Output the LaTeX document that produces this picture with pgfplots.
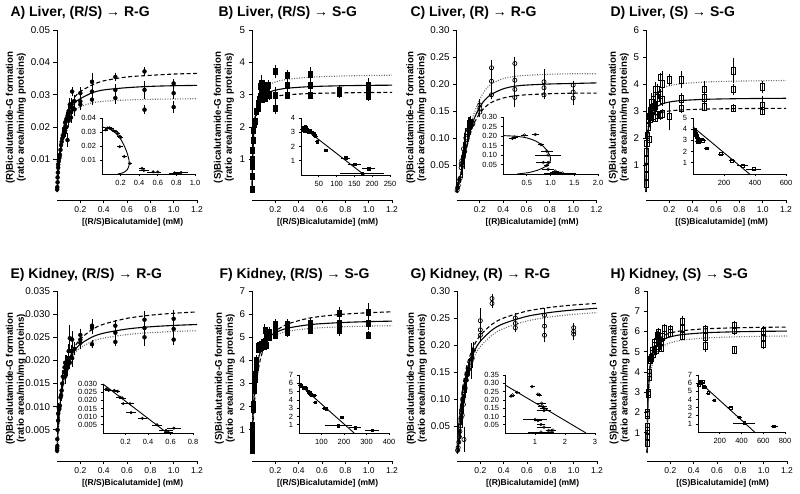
\documentclass[border=0pt]{standalone}
\usepackage{fontspec}
\setmainfont{Liberation Sans}
\usepackage{pgfplots}
\pgfplotsset{compat=1.18}
\pgfplotsset{
 mainax/.style={
   scale only axis, width=140pt, height=162pt,
   axis lines=left, axis line style={-, line width=0.9pt},
   axis x line shift=8pt,
   tick align=outside, major tick length=3.5pt,
   tick style={line width=0.8pt, black},
   xmin=0, xmax=1.2, ymin=0,
   xtick={0.2,0.4,0.6,0.8,1.0,1.2},
   scaled ticks=false,
   /pgf/number format/assume math mode=true,
   xticklabel style={font=\fontsize{8.5}{10}\selectfont, /pgf/number format/.cd, fixed, fixed zerofill, precision=1},
   yticklabel style={font=\fontsize{9.8}{10}\selectfont},
   xlabel style={font=\bfseries\fontsize{8.5}{10}\selectfont, at={(axis description cs:0.54,-0.185)}, anchor=center},
   ylabel style={font=\bfseries\fontsize{9.7}{11}\selectfont, align=center, anchor=center},
   clip=false,
 },
 ylpos/.style={ylabel style={at={(axis description cs:#1,0.46)}}},
 insetax/.style={
   scale only axis, axis lines=left, axis line style={-, line width=0.8pt},
   tick align=outside, major tick length=2.5pt, tick style={line width=0.7pt, black},
   xmin=0, ymin=0, scaled ticks=false,
   /pgf/number format/assume math mode=true,
   tick label style={font=\fontsize{7.5}{8}\selectfont},
   clip=false,
 },
 ydec/.style={yticklabel style={/pgf/number format/.cd, fixed, fixed zerofill, precision=#1}},
 xdec/.style={xticklabel style={/pgf/number format/.cd, fixed, fixed zerofill, precision=#1}},
 cdash/.style={black, line width=1.1pt, dash pattern=on 4pt off 2.5pt, mark=none, smooth},
 csol/.style={black, line width=1.1pt, mark=none, smooth},
 cdot/.style={black!60, line width=1.1pt, dash pattern=on 1pt off 1.5pt, mark=none, smooth},
 cins/.style={black, line width=0.9pt, mark=none},
 yerr/.style={error bars/.cd, y dir=both, y explicit, error bar style={line width=0.8pt, black}, error mark options={line width=0.8pt, mark size=1.8pt, black}},
 xerr/.style={error bars/.cd, x dir=both, x explicit, error bar style={line width=0.6pt, black}, error mark options={line width=0.6pt, mark size=1.3pt, black}},
 dfill/.style={only marks, mark=*, mark size=2pt, mark options={black, fill=black}},
 sfill/.style={only marks, mark=square*, mark size=2pt, mark options={black, fill=black, yscale=1.5}},
 ocirc/.style={only marks, mark=o, mark size=2.1pt, mark options={black, fill=white, line width=0.7pt}},
 osq/.style={only marks, mark=square, mark size=2.1pt, mark options={black, fill=white, line width=0.7pt, yscale=1.6}},
 idfill/.style={only marks, mark=*, mark size=1.3pt, mark options={black, fill=black}},
 isfill/.style={only marks, mark=square*, mark size=1.3pt, mark options={black, fill=black}},
 iocirc/.style={only marks, mark=o, mark size=1.4pt, mark options={black, fill=white, line width=0.5pt}},
 iosq/.style={only marks, mark=square, mark size=1.4pt, mark options={black, fill=white, line width=0.5pt}},
}
\begin{document}
\begin{tikzpicture}
\path[use as bounding box] (0,0) rectangle (800pt,494pt);
\tikzset{ttl/.style={anchor=base west, font=\bfseries\fontsize{14}{16}\selectfont}}
\node[ttl] at (7pt,477pt) {A) Liver, (R/S) → R-G};
\node[ttl] at (215pt,477pt) {B) Liver, (R/S) → S-G};
\node[ttl] at (407pt,477pt) {C) Liver, (R) → R-G};
\node[ttl] at (607pt,477pt) {D) Liver, (S) → S-G};
\node[ttl] at (7pt,215pt) {E) Kidney, (R/S) → R-G};
\node[ttl] at (216pt,215pt) {F) Kidney, (R/S) → S-G};
\node[ttl] at (407pt,215pt) {G) Kidney, (R) → R-G};
\node[ttl] at (607pt,215pt) {H) Kidney, (S) → S-G};

% ================= A =================
\begin{axis}[mainax, at={(57pt,302pt)}, anchor=south west, ymax=0.05,
  ytick={0.01,0.02,0.03,0.04,0.05}, ydec=2, ylpos=-0.293,
  ylabel={(R)Bicalutamide-G formation\\(ratio area/min/mg proteins)},
  xlabel={[(R/S)Bicalutamide] (mM)}]
\addplot[cdash] coordinates {(0,0)(0.01,0.005)(0.02,0.0095)(0.04,0.016)(0.06,0.0205)(0.08,0.0235)(0.1,0.0258)(0.15,0.0292)(0.2,0.031)(0.3,0.033)(0.4,0.0343)(0.6,0.0355)(0.8,0.036)(1.0,0.0364)(1.2,0.0366)};
\addplot[csol] coordinates {(0,0)(0.01,0.005)(0.02,0.0095)(0.04,0.016)(0.06,0.020)(0.08,0.0228)(0.1,0.0248)(0.15,0.0275)(0.2,0.0288)(0.3,0.0306)(0.4,0.0315)(0.6,0.0322)(0.8,0.0326)(1.0,0.0328)(1.2,0.0329)};
\addplot[cdot] coordinates {(0,0)(0.01,0.005)(0.02,0.0093)(0.04,0.0155)(0.06,0.0192)(0.08,0.0215)(0.1,0.0232)(0.15,0.0252)(0.2,0.0263)(0.3,0.0275)(0.4,0.028)(0.6,0.0284)(0.8,0.0286)(1.0,0.0287)(1.2,0.0288)};
\addplot[dfill, yerr] table[x=x, y=y, y error=e] {
x y e
0.001 0.0008 0.0003
0.0025 0.0015 0.0003
0.005 0.003 0.0004
0.005 0.0045 0.0004
0.0075 0.006 0.0005
0.01 0.0075 0.0006
0.01 0.0085 0.0006
0.015 0.0095 0.0006
0.02 0.0105 0.0007
0.02 0.011 0.0007
0.025 0.0115 0.0007
0.03 0.013 0.0008
0.035 0.0145 0.0008
0.04 0.0155 0.0009
0.045 0.0165 0.0009
0.05 0.0175 0.001
0.06 0.0185 0.0012
0.06 0.0195 0.0012
0.07 0.019 0.0015
0.07 0.0215 0.0012
0.08 0.02 0.0015
0.08 0.0225 0.0015
0.09 0.016 0.0015
0.09 0.0235 0.0013
0.1 0.022 0.0015
0.1 0.025 0.0015
0.11 0.027 0.0015
0.11 0.0245 0.0013
0.12 0.027 0.0015
0.12 0.023 0.0013
0.13 0.031 0.0008
0.13 0.026 0.0015
0.15 0.0255 0.0015
0.15 0.028 0.0013
0.2 0.0305 0.0012
0.2 0.028 0.0012
0.2 0.027 0.0012
0.3 0.034 0.0022
0.3 0.031 0.0015
0.3 0.0285 0.0012
0.5 0.0355 0.0008
0.5 0.0315 0.0012
0.5 0.029 0.0012
0.75 0.0372 0.0008
0.75 0.0315 0.0022
0.75 0.0254 0.0008
1.0 0.0335 0.0008
1.0 0.0305 0.0012
1.0 0.0262 0.0012
};
\end{axis}
\begin{axis}[insetax, at={(102pt,320pt)}, anchor=south west, width=93pt, height=56pt,
  xmax=1.0, ymax=0.04, xtick={0.2,0.4,0.6,0.8,1.0}, xdec=1, ytick={0.01,0.02,0.03,0.04}, ydec=2]
\addplot[cins, smooth] coordinates {(0,0.0335)(0.05,0.0328)(0.1,0.0315)(0.15,0.029)(0.2,0.025)(0.24,0.02)(0.27,0.015)(0.29,0.01)(0.29,0.006)(0.27,0.003)(0.23,0.001)(0.17,0)};
\addplot[idfill, xerr] table[x=x, y=y, x error=e] {
x y e
0.04 0.0315 0.01
0.06 0.0328 0.01
0.08 0.033 0.01
0.1 0.0325 0.01
0.12 0.031 0.01
0.15 0.0305 0.01
0.17 0.029 0.01
0.19 0.027 0.01
0.2 0.026 0.01
0.19 0.0195 0.02
0.24 0.0125 0.01
0.3 0.0075 0.01
0.43 0.004 0.02
0.45 0.0025 0.04
0.55 0.0015 0.05
0.6 0.0015 0.02
0.85 0.001 0.06
0.78 0.0008 0.05
};
\end{axis}

% ================= B =================
\begin{axis}[mainax, at={(252pt,302pt)}, anchor=south west, ymax=5,
  ytick={1,2,3,4,5}, ylpos=-0.2,
  ylabel={(S)Bicalutamide-G formation\\(ratio area/min/mg proteins)},
  xlabel={[(R/S)Bicalutamide] (mM)}]
\addplot[cdot] coordinates {(0,0)(0.0025,0.521)(0.005,0.913)(0.01,1.46)(0.02,2.086)(0.03,2.433)(0.05,2.808)(0.075,3.042)(0.1,3.174)(0.15,3.318)(0.2,3.395)(0.3,3.476)(0.5,3.544)(0.75,3.578)(1.0,3.596)(1.2,3.605)};
\addplot[csol] coordinates {(0,0)(0.0025,0.574)(0.005,0.979)(0.01,1.514)(0.02,2.081)(0.03,2.379)(0.05,2.685)(0.075,2.871)(0.1,2.973)(0.15,3.083)(0.2,3.142)(0.3,3.202)(0.5,3.252)(0.75,3.278)(1.0,3.291)(1.2,3.297)};
\addplot[cdash] coordinates {(0,0)(0.0025,0.62)(0.005,1.033)(0.01,1.55)(0.02,2.067)(0.03,2.325)(0.05,2.583)(0.075,2.735)(0.1,2.818)(0.15,2.906)(0.2,2.952)(0.3,3.0)(0.5,3.039)(0.75,3.059)(1.0,3.069)(1.2,3.074)};
\addplot[sfill, yerr] table[x=x, y=y, y error=e] {
x y e
0.0025 0.1 0.05
0.0025 0.5 0.05
0.0025 0.8 0.05
0.005 1.0 0.05
0.005 1.3 0.1
0.01 1.6 0.1
0.01 1.9 0.1
0.02 2.1 0.1
0.03 2.2 0.1
0.04 2.5 0.1
0.05 2.6 0.1
0.05 2.75 0.1
0.06 2.85 0.15
0.07 3.25 0.1
0.07 2.95 0.15
0.08 3.1 0.2
0.08 3.35 0.2
0.09 3.2 0.15
0.09 2.9 0.1
0.1 3.1 0.15
0.1 2.95 0.15
0.11 3.3 0.1
0.11 2.9 0.1
0.12 3.2 0.15
0.13 3.25 0.1
0.13 3.0 0.1
0.14 3.3 0.1
0.15 3.0 0.1
0.2 3.72 0.15
0.2 3.0 0.2
0.2 2.6 0.15
0.3 3.6 0.1
0.3 3.3 0.1
0.3 3.0 0.08
0.5 3.65 0.15
0.5 3.3 0.1
0.5 3.0 0.08
0.75 3.15 0.08
0.75 3.05 0.08
1.0 3.3 0.15
1.0 3.1 0.1
1.0 2.95 0.08
};
\end{axis}
\begin{axis}[insetax, at={(301pt,319pt)}, anchor=south west, width=89pt, height=57pt,
  xmax=250, ymax=4, xtick={50,100,150,200,250}, ytick={1,2,3,4}]
\addplot[cins] coordinates {(0,3.45)(178,0)};
\addplot[isfill, xerr] table[x=x, y=y, x error=e] {
x y e
5 3.2 3
8 3.35 3
10 3.1 3
12 3.4 3
15 3.25 3
18 3.15 3
20 3.05 3
25 3.1 3
30 3.0 3
35 2.9 3
40 2.75 3
45 2.35 3
70 1.75 3
125 1.2 10
150 0.75 15
190 0.45 15
172 0.1 58
};
\end{axis}

% ================= C =================
\begin{axis}[mainax, at={(456.5pt,302pt)}, anchor=south west, ymax=0.30,
  ytick={0.05,0.10,0.15,0.20,0.25,0.30}, ydec=2, ylpos=-0.286,
  ylabel={(R)Bicalutamide-G formation\\(ratio area/min/mg proteins)},
  xlabel={[(R)Bicalutamide] (mM)}]
\addplot[cdot] coordinates {(0,0)(0.025,0.022)(0.05,0.048)(0.075,0.075)(0.1,0.10)(0.125,0.125)(0.15,0.145)(0.2,0.172)(0.25,0.190)(0.3,0.200)(0.4,0.210)(0.5,0.214)(0.6,0.216)(0.8,0.218)(1.0,0.219)(1.2,0.219)};
\addplot[csol] coordinates {(0,0)(0.025,0.022)(0.05,0.047)(0.075,0.073)(0.1,0.097)(0.125,0.118)(0.15,0.135)(0.2,0.158)(0.25,0.172)(0.3,0.181)(0.4,0.191)(0.5,0.196)(0.6,0.198)(0.8,0.200)(1.0,0.201)(1.2,0.202)};
\addplot[cdash] coordinates {(0,0)(0.025,0.022)(0.05,0.046)(0.075,0.071)(0.1,0.093)(0.125,0.112)(0.15,0.127)(0.2,0.146)(0.25,0.158)(0.3,0.166)(0.4,0.174)(0.5,0.178)(0.6,0.180)(0.8,0.182)(1.0,0.183)(1.2,0.183)};
\addplot[ocirc, yerr] table[x=x, y=y, y error=e] {
x y e
0.005 0.003 0.002
0.01 0.008 0.003
0.015 0.012 0.003
0.02 0.02 0.004
0.03 0.025 0.005
0.04 0.045 0.01
0.04 0.052 0.01
0.045 0.058 0.008
0.05 0.05 0.02
0.06 0.065 0.01
0.06 0.08 0.01
0.07 0.075 0.03
0.08 0.09 0.02
0.08 0.1 0.015
0.09 0.11 0.02
0.1 0.115 0.02
0.11 0.12 0.015
0.12 0.128 0.01
0.13 0.125 0.006
0.14 0.126 0.005
0.2 0.161 0.008
0.2 0.155 0.008
0.2 0.148 0.006
0.3 0.23 0.012
0.3 0.205 0.015
0.3 0.18 0.005
0.5 0.238 0.008
0.5 0.207 0.015
0.5 0.19 0.01
0.5 0.175 0.015
0.75 0.204 0.02
0.75 0.193 0.01
0.75 0.18 0.005
1.0 0.198 0.005
1.0 0.185 0.008
1.0 0.174 0.01
};
\end{axis}
\begin{axis}[insetax, at={(503pt,320pt)}, anchor=south west, width=95pt, height=57pt,
  xmax=2.0, ymax=0.30, xtick={0.5,1.0,1.5,2.0}, xdec=1, ytick={0.05,0.10,0.15,0.20,0.25,0.30}, ydec=2]
\addplot[cins, smooth] coordinates {(0,0.202)(0.3,0.198)(0.5,0.19)(0.7,0.172)(0.85,0.145)(0.95,0.115)(1.0,0.085)(0.98,0.06)(0.9,0.04)(0.75,0.022)(0.55,0.008)(0.3,0)};
\addplot[iocirc, xerr] table[x=x, y=y, x error=e] {
x y e
0.2 0.188 0.04
0.25 0.195 0.04
0.45 0.205 0.05
0.68 0.208 0.05
0.8 0.155 0.03
0.92 0.12 0.1
0.95 0.1 0.25
0.85 0.06 0.12
0.95 0.06 0.03
0.92 0.045 0.03
0.95 0.025 0.1
1.1 0.015 0.05
1.12 0.008 0.1
1.2 0.005 0.3
1.25 0.005 0.05
};
\end{axis}

% ================= D =================
\begin{axis}[mainax, at={(646pt,302pt)}, anchor=south west, ymax=6,
  ytick={1,2,3,4,5,6}, ylpos=-0.193,
  ylabel={(S)Bicalutamide-G formation\\(ratio area/min/mg proteins)},
  xlabel={[(S)Bicalutamide] (mM)}]
\addplot[cdot] coordinates {(0,0)(0.0025,0.719)(0.005,1.226)(0.01,1.895)(0.02,2.606)(0.03,2.979)(0.05,3.363)(0.075,3.595)(0.1,3.723)(0.15,3.861)(0.2,3.934)(0.3,4.010)(0.5,4.072)(0.75,4.104)(1.0,4.121)(1.2,4.129)};
\addplot[csol] coordinates {(0,0)(0.0025,0.7)(0.005,1.167)(0.01,1.75)(0.02,2.333)(0.03,2.625)(0.05,2.917)(0.075,3.088)(0.1,3.182)(0.15,3.281)(0.2,3.333)(0.3,3.387)(0.5,3.431)(0.75,3.454)(1.0,3.465)(1.2,3.471)};
\addplot[cdash] coordinates {(0,0)(0.0025,0.743)(0.005,1.2)(0.01,1.733)(0.02,2.229)(0.03,2.463)(0.05,2.690)(0.075,2.819)(0.1,2.889)(0.15,2.962)(0.2,3.0)(0.3,3.039)(0.5,3.071)(0.75,3.087)(1.0,3.095)(1.2,3.099)};
\addplot[osq, yerr] table[x=x, y=y, y error=e] {
x y e
0.0025 0.3 0.05
0.0025 0.6 0.05
0.0025 0.9 0.05
0.005 1.2 0.1
0.005 1.5 0.1
0.0075 1.8 0.1
0.01 2.1 0.1
0.02 2.4 0.1
0.02 2.7 0.1
0.03 1.95 0.2
0.03 2.8 0.15
0.04 3.0 0.2
0.04 2.7 0.1
0.05 3.3 0.3
0.05 3.05 0.15
0.06 2.8 0.1
0.06 3.4 0.2
0.07 3.15 0.15
0.08 3.8 0.2
0.08 3.2 0.15
0.08 2.75 0.1
0.1 3.8 0.15
0.1 3.5 0.1
0.1 2.85 0.1
0.12 4.25 0.1
0.12 3.6 0.15
0.12 2.85 0.1
0.14 4.0 0.4
0.14 3.4 0.15
0.14 2.9 0.1
0.2 4.15 0.15
0.2 2.8 0.45
0.3 4.15 0.25
0.3 3.45 0.15
0.3 3.1 0.1
0.5 3.8 0.25
0.5 3.5 0.15
0.5 3.15 0.1
0.75 4.5 0.4
0.75 3.8 0.15
0.75 3.1 0.08
1.0 3.9 0.15
1.0 3.2 0.3
1.0 3.0 0.1
};
\end{axis}
\begin{axis}[insetax, at={(693pt,320pt)}, anchor=south west, width=93pt, height=56pt,
  xmax=600, ymax=5, xtick={200,400,600}, ytick={1,2,3,4,5}]
\addplot[cins] coordinates {(0,4.2)(365,0)};
\addplot[iosq, xerr] table[x=x, y=y, x error=e] {
x y e
10 3.95 5
15 3.75 8
20 3.55 8
25 3.4 8
30 3.2 8
35 3.0 8
38 2.85 10
45 3.05 8
55 3.1 8
65 3.0 10
30 2.9 10
90 2.3 8
180 1.8 10
250 1.2 10
320 0.75 25
390 0.45 40
};
\end{axis}

% ================= E =================
\begin{axis}[mainax, at={(57pt,41pt)}, anchor=south west, ymax=0.035,
  ytick={0.005,0.010,0.015,0.020,0.025,0.030,0.035}, ydec=3, ylpos=-0.293,
  ylabel={(R)Bicalutamide-G formation\\(ratio area/min/mg proteins)},
  xlabel={[(R/S)Bicalutamide] (mM)}]
\addplot[cdash] coordinates {(0,0)(0.01,0.00457)(0.02,0.008)(0.04,0.0128)(0.06,0.016)(0.08,0.01829)(0.1,0.02)(0.15,0.02286)(0.2,0.02462)(0.3,0.02667)(0.4,0.02783)(0.6,0.02909)(0.8,0.02977)(1.0,0.03019)(1.2,0.03048)};
\addplot[csol] coordinates {(0,0)(0.01,0.00524)(0.02,0.00886)(0.04,0.01355)(0.06,0.01646)(0.08,0.01843)(0.1,0.01986)(0.15,0.02215)(0.2,0.02351)(0.3,0.02504)(0.4,0.02589)(0.6,0.02679)(0.8,0.02727)(1.0,0.02756)(1.2,0.02776)};
\addplot[cdot] coordinates {(0,0)(0.01,0.00546)(0.02,0.0091)(0.04,0.01365)(0.06,0.01638)(0.08,0.0182)(0.1,0.0195)(0.15,0.02155)(0.2,0.02275)(0.3,0.02409)(0.4,0.02482)(0.6,0.02559)(0.8,0.026)(1.0,0.02625)(1.2,0.02642)};
\addplot[dfill, yerr] table[x=x, y=y, y error=e] {
x y e
0.001 0.0005 0.0002
0.001 0.001 0.0002
0.0025 0.0015 0.0003
0.0025 0.003 0.0003
0.005 0.005 0.0004
0.01 0.007 0.0005
0.01 0.0085 0.0005
0.015 0.0098 0.0006
0.02 0.0095 0.0006
0.025 0.0102 0.0006
0.03 0.012 0.0008
0.035 0.0125 0.0008
0.04 0.0135 0.0008
0.045 0.015 0.001
0.05 0.0165 0.001
0.06 0.0175 0.001
0.065 0.0185 0.001
0.07 0.0195 0.0012
0.07 0.0165 0.0012
0.08 0.0195 0.0012
0.08 0.018 0.0012
0.09 0.0185 0.0015
0.09 0.0195 0.001
0.1 0.02 0.0015
0.1 0.022 0.0012
0.11 0.0248 0.0025
0.11 0.0195 0.001
0.12 0.022 0.001
0.13 0.0245 0.0015
0.13 0.0205 0.0015
0.15 0.0225 0.001
0.2 0.0255 0.001
0.2 0.0245 0.001
0.2 0.0238 0.001
0.3 0.0275 0.001
0.3 0.027 0.0008
0.3 0.0235 0.0005
0.5 0.0275 0.0008
0.5 0.026 0.001
0.5 0.024 0.0005
0.75 0.0288 0.0015
0.75 0.027 0.0015
0.75 0.025 0.0015
1.0 0.029 0.0015
1.0 0.0268 0.0012
1.0 0.0245 0.0008
};
\end{axis}
\begin{axis}[insetax, at={(103pt,61pt)}, anchor=south west, width=90pt, height=49pt,
  xmax=0.8, ymax=0.030, xtick={0.2,0.4,0.6,0.8}, xdec=1, ytick={0.005,0.010,0.015,0.020,0.025,0.030}, ydec=3]
\addplot[cins] coordinates {(0,0.03)(0.57,0)};
\addplot[idfill, xerr] table[x=x, y=y, x error=e] {
x y e
0.03 0.027 0.02
0.05 0.026 0.02
0.1 0.026 0.02
0.13 0.0255 0.01
0.15 0.022 0.02
0.17 0.0215 0.02
0.18 0.018 0.01
0.24 0.018 0.02
0.25 0.0125 0.03
0.35 0.009 0.03
0.48 0.005 0.03
0.56 0.0015 0.05
0.58 0.0005 0.03
0.63 0.003 0.05
};
\end{axis}

% ================= F =================
\begin{axis}[mainax, at={(252pt,41pt)}, anchor=south west, ymax=7,
  ytick={1,2,3,4,5,6,7}, ylpos=-0.193,
  ylabel={(S)Bicalutamide-G formation\\(ratio area/min/mg proteins)},
  xlabel={[(R/S)Bicalutamide] (mM)}]
\addplot[cdash] coordinates {(0,0)(0.0025,0.371)(0.005,0.70)(0.01,1.261)(0.02,2.101)(0.03,2.702)(0.05,3.502)(0.075,4.111)(0.1,4.503)(0.15,4.977)(0.2,5.253)(0.3,5.562)(0.5,5.837)(0.75,5.985)(1.0,6.062)(1.2,6.101)};
\addplot[csol] coordinates {(0,0)(0.0025,0.559)(0.005,1.019)(0.01,1.734)(0.02,2.671)(0.03,3.258)(0.05,3.952)(0.075,4.424)(0.1,4.704)(0.15,5.023)(0.2,5.199)(0.3,5.388)(0.5,5.549)(0.75,5.633)(1.0,5.677)(1.2,5.698)};
\addplot[cdot] coordinates {(0,0)(0.0025,0.647)(0.005,1.159)(0.01,1.920)(0.02,2.858)(0.03,3.414)(0.05,4.043)(0.075,4.454)(0.1,4.692)(0.15,4.957)(0.2,5.101)(0.3,5.253)(0.5,5.382)(0.75,5.449)(1.0,5.483)(1.2,5.500)};
\addplot[sfill, yerr] table[x=x, y=y, y error=e] {
x y e
0.001 0.1 0.05
0.001 0.3 0.05
0.0025 0.6 0.05
0.0025 0.9 0.1
0.005 1.2 0.1
0.01 1.9 0.1
0.01 2.1 0.1
0.02 2.7 0.15
0.02 3.0 0.15
0.025 3.2 0.15
0.03 3.4 0.15
0.035 3.7 0.15
0.04 4.0 0.15
0.05 4.5 0.1
0.055 4.6 0.1
0.06 4.65 0.1
0.07 4.55 0.1
0.08 4.7 0.1
0.1 4.6 0.1
0.1 4.8 0.1
0.11 5.3 0.2
0.12 5.0 0.15
0.12 4.65 0.1
0.13 5.1 0.1
0.15 5.0 0.1
0.15 5.2 0.15
0.2 5.1 0.1
0.2 5.35 0.15
0.2 5.55 0.15
0.3 5.2 0.1
0.3 5.4 0.1
0.3 5.55 0.15
0.5 5.3 0.1
0.5 5.45 0.1
0.5 5.6 0.15
0.75 5.3 0.15
0.75 5.6 0.2
0.75 6.05 0.2
1.0 5.1 0.1
1.0 5.6 0.2
1.0 6.1 0.3
};
\end{axis}
\begin{axis}[insetax, at={(299pt,61pt)}, anchor=south west, width=90pt, height=58pt,
  xmax=400, ymax=7, xtick={100,200,300,400}, ytick={1,2,3,4,5,6,7}]
\addplot[cins] coordinates {(0,5.9)(245,0)};
\addplot[isfill, xerr] table[x=x, y=y, x error=e] {
x y e
5 5.8 3
10 5.7 3
18 5.5 3
25 5.45 3
32 5.4 3
40 5.0 4
48 4.85 4
55 4.6 4
68 4.55 4
72 3.7 4
115 3.0 5
120 2.9 5
190 1.9 3
175 0.9 55
250 0.65 20
325 0.35 25
};
\end{axis}

% ================= G =================
\begin{axis}[mainax, at={(457pt,41pt)}, anchor=south west, ymax=0.30,
  ytick={0.05,0.10,0.15,0.20,0.25,0.30}, ydec=2, ylpos=-0.286,
  ylabel={(R)Bicalutamide-G formation\\(ratio area/min/mg proteins)},
  xlabel={[(R)Bicalutamide] (mM)}]
\addplot[cdash] coordinates {(0,0)(0.01,0.0372)(0.02,0.066)(0.04,0.1078)(0.06,0.1366)(0.08,0.1576)(0.1,0.1736)(0.15,0.2009)(0.2,0.218)(0.3,0.2383)(0.4,0.25)(0.6,0.2628)(0.8,0.2697)(1.0,0.2741)(1.2,0.277)};
\addplot[csol] coordinates {(0,0)(0.01,0.0334)(0.02,0.0598)(0.04,0.0989)(0.06,0.1264)(0.08,0.1468)(0.1,0.1626)(0.15,0.1897)(0.2,0.207)(0.3,0.2277)(0.4,0.2397)(0.6,0.2531)(0.8,0.2603)(1.0,0.2649)(1.2,0.268)};
\addplot[cdot] coordinates {(0,0)(0.01,0.0302)(0.02,0.0545)(0.04,0.0911)(0.06,0.1174)(0.08,0.1372)(0.1,0.1526)(0.15,0.1796)(0.2,0.197)(0.3,0.2182)(0.4,0.2305)(0.6,0.2444)(0.8,0.252)(1.0,0.2567)(1.2,0.26)};
\addplot[ocirc, yerr] table[x=x, y=y, y error=e] {
x y e
0.005 0.005 0.003
0.01 0.01 0.005
0.015 0.02 0.005
0.02 0.03 0.01
0.025 0.04 0.01
0.03 0.05 0.015
0.035 0.065 0.01
0.04 0.08 0.015
0.045 0.07 0.02
0.05 0.1 0.02
0.055 0.09 0.015
0.06 0.025 0.02
0.065 0.115 0.02
0.07 0.12 0.015
0.08 0.135 0.02
0.09 0.145 0.01
0.1 0.155 0.01
0.11 0.16 0.012
0.12 0.17 0.03
0.13 0.175 0.015
0.14 0.19 0.012
0.2 0.245 0.02
0.2 0.228 0.015
0.2 0.218 0.01
0.3 0.286 0.006
0.3 0.277 0.006
0.5 0.25 0.005
0.5 0.24 0.005
0.5 0.232 0.005
0.75 0.255 0.01
0.75 0.235 0.01
0.75 0.218 0.01
1.0 0.232 0.005
1.0 0.225 0.005
1.0 0.22 0.008
};
\end{axis}
\begin{axis}[insetax, at={(505pt,61pt)}, anchor=south west, width=90pt, height=58pt,
  xmax=3, ymax=0.35, xtick={1,2,3}, ytick={0.05,0.10,0.15,0.20,0.25,0.30,0.35}, ydec=2]
\addplot[cins] coordinates {(0,0.29)(2.7,0)};
\addplot[iocirc, xerr] table[x=x, y=y, x error=e] {
x y e
0.2 0.222 0.04
0.25 0.23 0.04
0.4 0.245 0.04
0.9 0.28 0.04
1.1 0.235 0.04
1.15 0.23 0.04
1.22 0.18 0.1
1.25 0.162 0.1
1.3 0.15 0.1
1.3 0.135 0.2
1.0 0.08 0.35
1.1 0.075 0.1
1.2 0.05 0.1
1.3 0.035 0.2
1.45 0.015 0.05
1.55 0.015 0.05
1.6 0.018 0.05
1.2 0.005 0.4
};
\end{axis}

% ================= H =================
\begin{axis}[mainax, at={(647pt,41pt)}, anchor=south west, ymax=8,
  ytick={1,2,3,4,5,6,7,8}, ylpos=-0.196,
  ylabel={(S)Bicalutamide-G formation\\(ratio area/min/mg proteins)},
  xlabel={[(S)Bicalutamide] (mM)}]
\addplot[cdash] coordinates {(0,0)(0.0025,1.083)(0.005,1.847)(0.01,2.855)(0.02,3.925)(0.03,4.486)(0.05,5.065)(0.075,5.414)(0.1,5.607)(0.15,5.815)(0.2,5.925)(0.3,6.038)(0.5,6.133)(0.75,6.181)(1.0,6.206)(1.2,6.218)};
\addplot[csol] coordinates {(0,0)(0.0025,1.048)(0.005,1.788)(0.01,2.764)(0.02,3.8)(0.03,4.343)(0.05,4.903)(0.075,5.241)(0.1,5.429)(0.15,5.63)(0.2,5.736)(0.3,5.846)(0.5,5.938)(0.75,5.984)(1.0,6.008)(1.2,6.02)};
\addplot[cdot] coordinates {(0,0)(0.0025,0.836)(0.005,1.463)(0.01,2.34)(0.02,3.343)(0.03,3.9)(0.05,4.5)(0.075,4.875)(0.1,5.087)(0.15,5.318)(0.2,5.442)(0.3,5.571)(0.5,5.68)(0.75,5.735)(1.0,5.764)(1.2,5.778)};
\addplot[osq, yerr] table[x=x, y=y, y error=e] {
x y e
0.001 0.5 0.1
0.001 0.8 0.1
0.0025 1.1 0.1
0.0025 1.3 0.1
0.005 1.9 0.1
0.005 2.0 0.1
0.01 2.9 0.1
0.01 3.0 0.15
0.02 3.75 0.1
0.02 3.95 0.1
0.03 4.6 0.1
0.035 4.7 0.15
0.05 4.9 0.1
0.05 5.05 0.1
0.06 5.3 0.1
0.06 5.45 0.1
0.08 5.1 0.15
0.08 5.5 0.15
0.09 5.8 0.15
0.1 5.3 0.15
0.1 5.6 0.15
0.1 5.95 0.15
0.12 5.2 0.1
0.12 5.5 0.15
0.13 5.75 0.2
0.15 5.85 0.15
0.15 6.15 0.15
0.2 5.95 0.15
0.2 6.1 0.15
0.3 6.5 0.2
0.3 6.15 0.2
0.3 5.8 0.15
0.5 6.1 0.15
0.5 5.75 0.2
0.5 5.3 0.2
0.75 6.3 0.15
0.75 6.05 0.15
0.75 5.1 0.1
1.0 6.0 0.2
1.0 5.7 0.2
1.0 5.4 0.2
};
\end{axis}
\begin{axis}[insetax, at={(698pt,62pt)}, anchor=south west, width=87pt, height=57pt,
  xmax=800, ymax=7, xtick={200,400,600,800}, ytick={1,2,3,4,5,6,7}]
\addplot[cins] coordinates {(0,6.3)(520,0)};
\addplot[iosq, xerr] table[x=x, y=y, x error=e] {
x y e
10 5.8 5
15 6.1 5
22 6.2 5
30 6.0 5
40 6.15 5
55 5.6 5
65 5.5 5
95 4.8 5
150 3.9 5
300 3.0 8
380 1.8 8
425 1.1 90
700 0.7 20
};
\end{axis}
\end{tikzpicture}
\end{document}
